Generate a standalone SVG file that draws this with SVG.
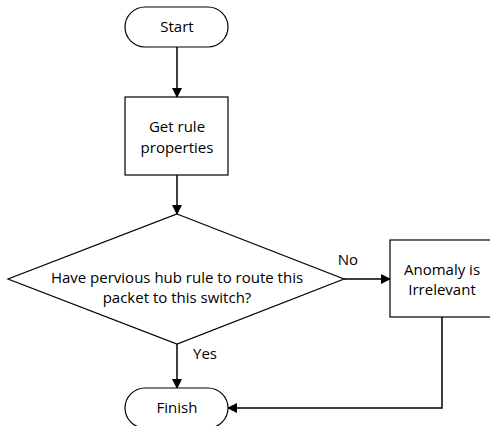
<svg xmlns="http://www.w3.org/2000/svg" width="490" height="426" viewBox="0 0 490 426">
<defs>
<style>
.shape{fill:#fff;stroke:#000;stroke-width:1.2}
.t{font-family:"Open Sans","Liberation Sans",sans-serif;font-size:15px;fill:#000;text-anchor:middle}
.c{fill:none;stroke:#000;stroke-width:1.5}
</style>
<marker id="ah" markerWidth="10" markerHeight="10" refX="9" refY="5" orient="auto" markerUnits="userSpaceOnUse">
<path d="M0,0 L10,5 L0,10 Z" fill="#000"/>
</marker>
</defs>
<rect width="490" height="426" fill="#fff"/>
<g id="connectors">
<line class="c" x1="177" y1="47" x2="177" y2="97" marker-end="url(#ah)"/>
<line class="c" x1="177" y1="175" x2="177" y2="214" marker-end="url(#ah)"/>
<line class="c" x1="344" y1="279" x2="390" y2="279" marker-end="url(#ah)"/>
<line class="c" x1="177" y1="344" x2="177" y2="388" marker-end="url(#ah)"/>
<polyline class="c" points="442,317 442,408 228,408" marker-end="url(#ah)"/>
<text class="t" x="348" y="265">No</text>
<text class="t" x="205" y="359">Yes</text>
</g>
<g id="start">
<rect class="shape" x="125" y="7" width="103" height="40" rx="20" ry="20"/>
<text class="t" x="177" y="32">Start</text>
</g>
<g id="get-rule">
<rect class="shape" x="125" y="97" width="103" height="78"/>
<text class="t" x="177" y="132">Get rule</text>
<text class="t" x="177" y="153">properties</text>
</g>
<g id="decision">
<polygon class="shape" points="177,214 344,279 177,344 8,279"/>
<text class="t" x="177" y="283">Have pervious hub rule to route this</text>
<text class="t" x="177" y="303">packet to this switch?</text>
</g>
<g id="anomaly">
<rect class="shape" x="390" y="240" width="103" height="77"/>
<text class="t" x="442" y="275">Anomaly is</text>
<text class="t" x="442" y="295">Irrelevant</text>
</g>
<g id="finish">
<rect class="shape" x="125" y="388" width="103" height="40" rx="20" ry="20"/>
<text class="t" x="177" y="413">Finish</text>
</g>
</svg>
